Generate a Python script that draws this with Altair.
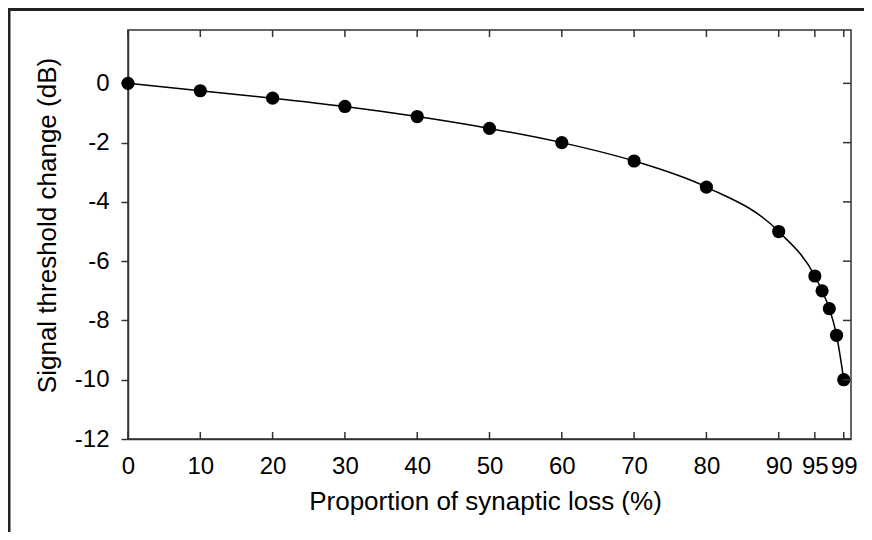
import altair as alt
import pandas as pd

# Data
loss = [0, 10, 20, 30, 40, 50, 60, 70, 80, 90, 95, 96, 97, 98, 99]
threshold = [0, -0.25, -0.5, -0.78, -1.12, -1.52, -2.0, -2.62, -3.5, -5.0,
             -6.5, -7.0, -7.6, -8.5, -10.0]
x_ticks = [0, 10, 20, 30, 40, 50, 60, 70, 80, 90, 95, 99]
y_ticks = [0, -2, -4, -6, -8, -10, -12]

W, H = 723, 409
FONT = "Liberation Sans"
AX = "#333333"

df = pd.DataFrame({"loss": loss, "thr": threshold})
df_xt = pd.DataFrame({"loss": x_ticks})
df_yt = pd.DataFrame({"thr": y_ticks})
df_one = pd.DataFrame({"k": [0]})

xscale = alt.Scale(domain=[0, 100], nice=False, zero=False)
yscale = alt.Scale(domain=[-12, 1.8], nice=False, zero=False)

xaxis = alt.Axis(values=x_ticks, ticks=False, grid=False,
                 labelExpr="'' + datum.value",
                 labelFont=FONT, labelFontSize=24, labelColor="black",
                 labelPadding=15, labelOverlap=False, labelFlush=False,
                 domainColor=AX, domainWidth=1.5,
                 title="Proportion of synaptic loss (%)", titleFont=FONT,
                 titleFontSize=26, titleFontWeight="normal", titleColor="black",
                 titleX=357, titleY=70, titleBaseline="alphabetic",
                 titleAnchor="middle", titleAlign="center")
yaxis = alt.Axis(values=y_ticks, grid=False,
                 labelExpr="'' + datum.value",
                 tickSize=7, tickColor=AX, tickWidth=1.5,
                 labelFont=FONT, labelFontSize=24, labelColor="black",
                 labelPadding=12, labelOverlap=False, labelFlush=False,
                 domainColor=AX, domainWidth=1.5,
                 title="Signal threshold change (dB)", titleFont=FONT,
                 titleFontSize=26, titleFontWeight="normal", titleColor="black",
                 titleX=-73, titleY=195, titleAngle=270,
                 titleBaseline="alphabetic", titleAlign="center")

X = alt.X("loss:Q", scale=xscale, axis=xaxis)
Y = alt.Y("thr:Q", scale=yscale, axis=yaxis)

line = alt.Chart(df).mark_line(color="black", strokeWidth=1.5,
                               interpolate="monotone").encode(x=X, y=Y)
pts = alt.Chart(df).mark_circle(color="black", opacity=1, size=175).encode(x=X, y=Y)

bottom_ticks = alt.Chart(df_xt).mark_rule(color=AX, strokeWidth=1.5).encode(
    x=X, y=alt.value(H), y2=alt.value(H - 7))
top_ticks = alt.Chart(df_xt).mark_rule(color=AX, strokeWidth=1.5).encode(
    x=X, y=alt.value(0), y2=alt.value(7))
right_ticks = alt.Chart(df_yt).mark_rule(color=AX, strokeWidth=1.5).encode(
    y=Y, x=alt.value(W - 8), x2=alt.value(W))

border_top = alt.Chart(df_one).mark_rule(color="#222222", strokeWidth=3).encode(
    x=alt.value(-120), x2=alt.value(W + 13), y=alt.value(-20.5))
border_left = alt.Chart(df_one).mark_rule(color="#222222", strokeWidth=3).encode(
    x=alt.value(-119), y=alt.value(-22), y2=alt.value(H + 93))

chart = alt.layer(line, pts, bottom_ticks, top_ticks, right_ticks,
                  border_top, border_left).properties(
    width=W, height=H,
    autosize=alt.AutoSizeParams(type="none"),
    padding={"left": 120, "top": 22, "right": 13, "bottom": 93},
    background="white",
).configure_view(stroke=AX, strokeWidth=1.5)

chart.save("out.html", embed_options={"renderer": "svg", "actions": False})
